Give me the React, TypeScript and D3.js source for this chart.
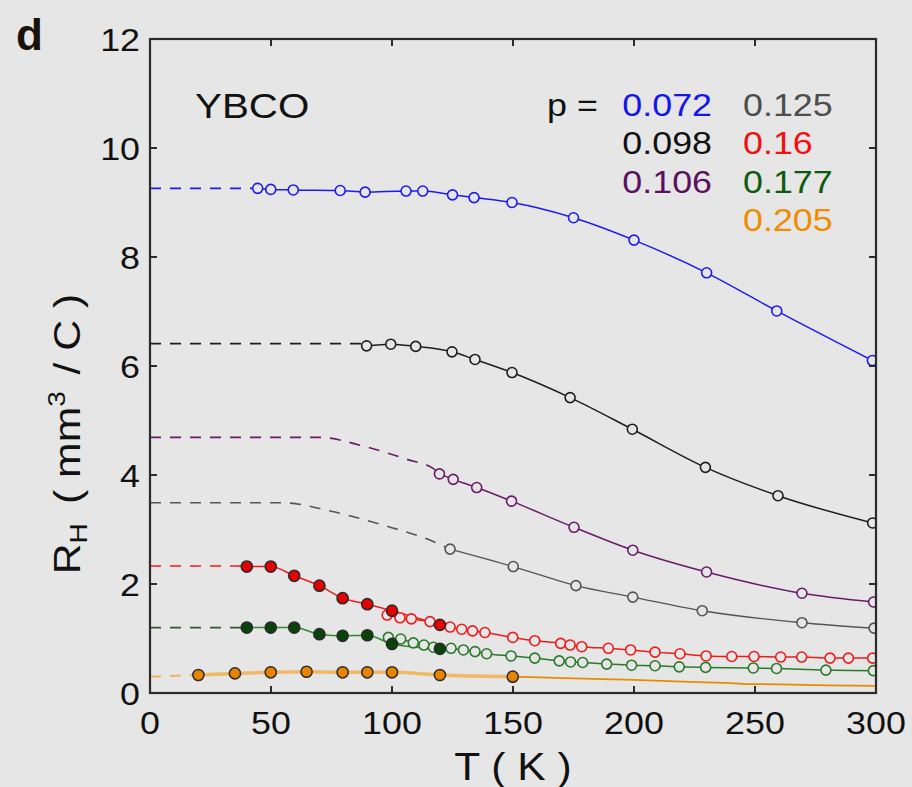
import React from "react";
import * as d3 from "d3";

// ---- data: Hall coefficient R_H (mm^3/C) vs temperature T (K) for YBCO ----
const dopings = ["0.072", "0.098", "0.106", "0.125", "0.16", "0.177", "0.205"];

// p = 0.072
const tBlue = [44.5, 49.9, 59.2, 78.6, 88.9, 105.8, 112.7, 125, 133.9, 149.6, 175, 200, 230, 259, 298.5];
const rBlue = [9.26, 9.24, 9.23, 9.22, 9.19, 9.21, 9.21, 9.14, 9.09, 9.0, 8.72, 8.31, 7.71, 7.01, 6.1];
const tBlueExt = [0, 44.5];
const rBlueExt = [9.26, 9.26];

// p = 0.098
const tBlack = [89.5, 99.5, 109.8, 124.8, 134.3, 149.6, 173.6, 199.3, 229.5, 259.5, 298.6];
const rBlack = [6.37, 6.4, 6.36, 6.26, 6.12, 5.88, 5.42, 4.84, 4.14, 3.62, 3.12];
const tBlackExt = [0, 89.5];
const rBlackExt = [6.41, 6.41];

// p = 0.106
const tPurple = [119.6, 125.3, 135, 149.4, 175.2, 199.5, 230, 269.4, 299];
const rPurple = [4.02, 3.92, 3.77, 3.52, 3.04, 2.62, 2.22, 1.83, 1.67];
const tPurpleExt = [0, 70.2, 88.2, 106, 117, 119.6];
const rPurpleExt = [4.69, 4.69, 4.53, 4.29, 4.12, 4.02];

// p = 0.125
const tGray = [124, 150.1, 176, 199.5, 228.2, 269.4, 299.2];
const rGray = [2.64, 2.32, 1.97, 1.76, 1.51, 1.29, 1.19];
const tGrayExt = [0, 55, 74.4, 96.4, 117, 124];
const rGrayExt = [3.49, 3.49, 3.34, 3.08, 2.78, 2.64];

// p = 0.16 (high-field points filled, others open)
const tRedHi = [40, 49.9, 59.6, 70, 79.6, 89.8, 100, 119.8];
const rRedHi = [2.32, 2.32, 2.15, 1.97, 1.74, 1.63, 1.51, 1.25];
const tRed = [98, 103.3, 108, 115.7, 124, 128.8, 133.3, 138.4, 149.9, 159, 169.7, 173.6, 178.4, 189.4, 198.6, 208.7, 219, 229.8, 240.4, 249.6, 260.6, 269.3, 281, 288.6, 298.6];
const rRed = [1.43, 1.38, 1.36, 1.31, 1.21, 1.17, 1.14, 1.11, 1.02, 0.96, 0.91, 0.88, 0.85, 0.82, 0.79, 0.75, 0.72, 0.68, 0.67, 0.67, 0.66, 0.66, 0.64, 0.64, 0.64];
const tRedExt = [0, 40];
const rRedExt = [2.33, 2.33];

// p = 0.177
const tGreenHi = [40, 49.9, 59.6, 70, 79.6, 89.8, 100, 119.8];
const rGreenHi = [1.2, 1.2, 1.2, 1.08, 1.05, 1.06, 0.9, 0.81];
const tGreen = [98.5, 103.6, 108.8, 113.2, 117.1, 124.4, 129.5, 134.3, 139.1, 149.2, 159, 169.1, 173.8, 178.8, 188.7, 199, 208.7, 218.7, 229.6, 249.3, 258.9, 279.3, 298.9];
const rGreen = [1.02, 0.99, 0.92, 0.88, 0.84, 0.82, 0.79, 0.76, 0.72, 0.68, 0.64, 0.59, 0.57, 0.56, 0.53, 0.51, 0.5, 0.48, 0.47, 0.46, 0.45, 0.42, 0.41];
const tGreenExt = [0, 40];
const rGreenExt = [1.2, 1.2];

// p = 0.205
const tOrangeHi = [20, 35.1, 49.9, 64.7, 79.6, 89.8, 100, 119.8, 149.9];
const rOrangeHi = [0.33, 0.36, 0.38, 0.39, 0.38, 0.38, 0.38, 0.33, 0.3];
const tOrangeCurve = [149.9, 175, 200, 220, 240, 246, 260, 280, 300];
const rOrangeCurve = [0.3, 0.27, 0.24, 0.21, 0.18, 0.165, 0.16, 0.14, 0.13];
const tOrangeExt = [0, 20];
const rOrangeExt = [0.3, 0.33];

const xTicks = [0, 50, 100, 150, 200, 250, 300];
const yTicks = [0, 2, 4, 6, 8, 10, 12];

// ---- layout ----
const W = 912;
const H = 787;
const M = { left: 150, right: 876, top: 39, bottom: 693 };
const BG = "#e6e6e6";
const FONT = "'Liberation Sans', Arial, Helvetica, sans-serif";
const SX = 1.12; // glyphs are drawn slightly wide

const x = d3.scaleLinear().domain([0, 300]).range([M.left, M.right]);
const y = d3.scaleLinear().domain([0, 12]).range([M.bottom, M.top]);

type Pt = [number, number];
const zip = (t: number[], r: number[]): Pt[] => t.map((v, i) => [v, r[i]]);

const smooth = d3
  .line<Pt>()
  .x((d) => x(d[0]))
  .y((d) => y(d[1]))
  .curve(d3.curveMonotoneX);

const straight = d3
  .line<Pt>()
  .x((d) => x(d[0]))
  .y((d) => y(d[1]));

const C = {
  blue: "#1c1cf0",
  black: "#1e1e1e",
  purple: "#6a1a6a",
  gray: "#555555",
  red: "#ee1b1b",
  green: "#2a7a2a",
  greenDark: "#0b430b",
  orange: "#ea8a00",
};

function OpenMarkers({ pts, color }: { pts: Pt[]; color: string }) {
  return (
    <g>
      {pts.map((p, i) => (
        <circle key={i} cx={x(p[0])} cy={y(p[1])} r={5} fill={BG} stroke={color} strokeWidth={1.6} />
      ))}
    </g>
  );
}

function FilledMarkers({ pts, color }: { pts: Pt[]; color: string }) {
  return (
    <g>
      {pts.map((p, i) => (
        <circle key={i} cx={x(p[0])} cy={y(p[1])} r={5.6} fill={color} stroke="#2a2a2a" strokeWidth={1.5} />
      ))}
    </g>
  );
}

// Text placed at (px, py) and widened horizontally around its anchor
function WideText({
  px,
  py,
  anchor = "start",
  size = 32,
  color = "#111",
  children,
}: {
  px: number;
  py: number;
  anchor?: "start" | "middle" | "end";
  size?: number;
  color?: string;
  children: React.ReactNode;
}) {
  return (
    <text
      transform={`translate(${px},${py}) scale(${SX},1)`}
      textAnchor={anchor}
      fontFamily={FONT}
      fontSize={size}
      fill={color}
    >
      {children}
    </text>
  );
}

export default function App() {
  const dash = "11,9";
  const legendLeft = [
    { label: dopings[0], color: "#1414ee", row: 0 },
    { label: dopings[1], color: "#111111", row: 1 },
    { label: dopings[2], color: "#5a1060", row: 2 },
  ];
  const legendRight = [
    { label: dopings[3], color: "#4d4d4d", row: 0 },
    { label: dopings[4], color: "#f01010", row: 1 },
    { label: dopings[5], color: "#0c5a0c", row: 2 },
    { label: dopings[6], color: "#f08c00", row: 3 },
  ];
  const rowY = (r: number) => 116 + r * 38.3;

  return (
    <div style={{ position: "absolute", left: 0, top: 0 }}>
      <svg width={W} height={H} viewBox={`0 0 ${W} ${H}`} style={{ display: "block" }}>
        <defs>
          <clipPath id="plot-clip">
            <rect x={M.left} y={M.top} width={M.right - M.left} height={M.bottom - M.top} />
          </clipPath>
        </defs>
        <rect x={0} y={0} width={W} height={H} fill={BG} />

        <g clipPath="url(#plot-clip)" fill="none">
          {/* low-temperature extrapolations */}
          <path d={straight(zip(tBlueExt, rBlueExt)) || ""} stroke={C.blue} strokeWidth={1.6} strokeDasharray={dash} />
          <path d={straight(zip(tBlackExt, rBlackExt)) || ""} stroke={C.black} strokeWidth={1.6} strokeDasharray={dash} />
          <path d={smooth(zip(tPurpleExt, rPurpleExt)) || ""} stroke={C.purple} strokeWidth={1.6} strokeDasharray={dash} />
          <path d={smooth(zip(tGrayExt, rGrayExt)) || ""} stroke={C.gray} strokeWidth={1.6} strokeDasharray={dash} />
          <path d={straight(zip(tRedExt, rRedExt)) || ""} stroke={C.red} strokeWidth={1.6} strokeDasharray={dash} />
          <path d={straight(zip(tGreenExt, rGreenExt)) || ""} stroke={C.greenDark} strokeWidth={1.6} strokeDasharray={dash} opacity={0.85} />
          <path d={straight(zip(tOrangeExt, rOrangeExt)) || ""} stroke="#f2b35a" strokeWidth={2} strokeDasharray={dash} />

          {/* measured curves */}
          <path d={smooth(zip(tBlue, rBlue)) || ""} stroke={C.blue} strokeWidth={1.5} />
          <path d={smooth(zip(tBlack, rBlack)) || ""} stroke={C.black} strokeWidth={1.5} />
          <path d={smooth(zip(tPurple, rPurple)) || ""} stroke={C.purple} strokeWidth={1.5} />
          <path d={smooth(zip(tGray, rGray)) || ""} stroke={C.gray} strokeWidth={1.4} />
          <path d={smooth(zip(tRed, rRed)) || ""} stroke={C.red} strokeWidth={1.5} />
          <path d={smooth(zip(tGreen, rGreen)) || ""} stroke={C.green} strokeWidth={1.5} />
          <path d={smooth(zip(tRedHi, rRedHi)) || ""} stroke={C.red} strokeWidth={1.5} />
          <path d={smooth(zip(tGreenHi, rGreenHi)) || ""} stroke="#2d8a2d" strokeWidth={1.5} />
          <path d={smooth(zip(tOrangeHi, rOrangeHi)) || ""} stroke="#f0b050" strokeWidth={3.5} opacity={0.85} />
          <path d={straight(zip(tOrangeCurve, rOrangeCurve)) || ""} stroke={C.orange} strokeWidth={1.8} />

          {/* markers */}
          <OpenMarkers pts={zip(tBlue, rBlue)} color={C.blue} />
          <OpenMarkers pts={zip(tBlack, rBlack)} color={C.black} />
          <OpenMarkers pts={zip(tPurple, rPurple)} color={C.purple} />
          <OpenMarkers pts={zip(tGray, rGray)} color={C.gray} />
          <OpenMarkers pts={zip(tRed, rRed)} color={C.red} />
          <OpenMarkers pts={zip(tGreen, rGreen)} color={C.green} />
          <FilledMarkers pts={zip(tRedHi, rRedHi)} color="#e60000" />
          <FilledMarkers pts={zip(tGreenHi, rGreenHi)} color="#0a430a" />
          <FilledMarkers pts={zip(tOrangeHi, rOrangeHi)} color="#e88400" />
        </g>

        {/* frame with inward ticks on all sides */}
        <rect x={M.left} y={M.top} width={M.right - M.left} height={M.bottom - M.top} fill="none" stroke="#2b2b2b" strokeWidth={2.2} />
        <g stroke="#2b2b2b" strokeWidth={2}>
          {xTicks.slice(1, -1).map((t) => (
            <g key={t}>
              <line x1={x(t)} x2={x(t)} y1={M.bottom} y2={M.bottom - 7} />
              <line x1={x(t)} x2={x(t)} y1={M.top} y2={M.top + 7} />
            </g>
          ))}
          {yTicks.slice(1, -1).map((t) => (
            <g key={t}>
              <line x1={M.left} x2={M.left + 7} y1={y(t)} y2={y(t)} />
              <line x1={M.right} x2={M.right - 7} y1={y(t)} y2={y(t)} />
            </g>
          ))}
        </g>

        {/* tick labels */}
        {xTicks.map((t) => (
          <WideText key={`x${t}`} px={x(t)} py={734} anchor="middle">
            {t}
          </WideText>
        ))}
        {yTicks.map((t) => (
          <WideText key={`y${t}`} px={140} py={y(t) + 11.5} anchor="end">
            {t}
          </WideText>
        ))}

        {/* axis titles */}
        <WideText px={513} py={780} anchor="middle" size={38}>
          T ( K )
        </WideText>
        <text
          transform="translate(80,434) rotate(-90) scale(1.22,1.05)"
          textAnchor="middle"
          fontFamily={FONT}
          fontSize={35}
          fill="#111"
        >
          R<tspan fontSize={23} dy={7}>H</tspan>
          <tspan dy={-7} dx={6}> ( mm</tspan>
          <tspan fontSize={23} dy={-14}>3</tspan>
          <tspan dy={14} dx={4}> / C )</tspan>
        </text>

        {/* panel letter */}
        <text x={16} y={50} fontFamily={FONT} fontSize={44} fontWeight="bold" fill="#1a1208">
          d
        </text>

        {/* sample label and doping legend */}
        <WideText px={195} py={118} size={36}>
          YBCO
        </WideText>
        <WideText px={547} py={rowY(0)}>
          p =
        </WideText>
        {legendLeft.map((d) => (
          <WideText key={d.label} px={712} py={rowY(d.row)} anchor="end" color={d.color}>
            {d.label}
          </WideText>
        ))}
        {legendRight.map((d) => (
          <WideText key={d.label} px={743} py={rowY(d.row)} color={d.color}>
            {d.label}
          </WideText>
        ))}
      </svg>
    </div>
  );
}
